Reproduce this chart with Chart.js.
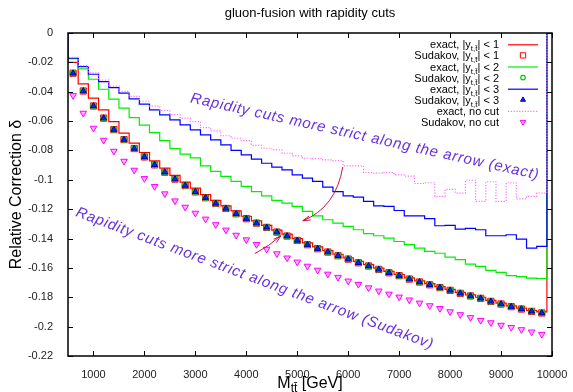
<!DOCTYPE html>
<html>
<head>
<meta charset="utf-8">
<script src="https://cdn.jsdelivr.net/npm/chart.js@4.4.0/dist/chart.umd.min.js"></script>
<style>
  html, body { margin: 0; padding: 0; background: #fff; }
</style>
</head>
<body>
<canvas id="c" width="573" height="392"></canvas>
<script>
// ---- data (bin centres in GeV, relative correction) ----
const M_BINS = [600, 800, 1000, 1200, 1400, 1600, 1800, 2000, 2200, 2400,
  2600, 2800, 3000, 3200, 3400, 3600, 3800, 4000, 4200, 4400,
  4600, 4800, 5000, 5200, 5400, 5600, 5800, 6000, 6200, 6400,
  6600, 6800, 7000, 7200, 7400, 7600, 7800, 8000, 8200, 8400,
  8600, 8800, 9000, 9200, 9400, 9600, 9800];
const BIN_HALF = 100;

const EXACT_Y1 = [-0.0200, -0.0347, -0.0444, -0.0524, -0.0603, -0.0682, -0.0750, -0.0814, -0.0871, -0.0920,
  -0.0970, -0.1016, -0.1057, -0.1100, -0.1140, -0.1177, -0.1212, -0.1248, -0.1280, -0.1310,
  -0.1342, -0.1370, -0.1400, -0.1430, -0.1457, -0.1482, -0.1507, -0.1531, -0.1556, -0.1578,
  -0.1601, -0.1624, -0.1645, -0.1668, -0.1688, -0.1707, -0.1727, -0.1746, -0.1766, -0.1784,
  -0.1800, -0.1821, -0.1840, -0.1858, -0.1874, -0.1890, -0.1900];

const SUDAKOV_Y1 = [-0.0274, -0.0395, -0.0497, -0.0580, -0.0658, -0.0726, -0.0787, -0.0844, -0.0898, -0.0948,
  -0.0995, -0.1039, -0.1082, -0.1122, -0.1161, -0.1195, -0.1231, -0.1265, -0.1295, -0.1324,
  -0.1356, -0.1383, -0.1413, -0.1442, -0.1469, -0.1492, -0.1517, -0.1540, -0.1565, -0.1587,
  -0.1610, -0.1633, -0.1653, -0.1676, -0.1696, -0.1715, -0.1734, -0.1753, -0.1773, -0.1791,
  -0.1807, -0.1828, -0.1846, -0.1864, -0.1880, -0.1896, -0.1907];

const EXACT_Y2 = [-0.0175, -0.0245, -0.0315, -0.0383, -0.0451, -0.0512, -0.0576, -0.0628, -0.0678, -0.0733,
  -0.0787, -0.0825, -0.0850, -0.0905, -0.0943, -0.0977, -0.1011, -0.1045, -0.1080, -0.1109,
  -0.1140, -0.1159, -0.1181, -0.1215, -0.1245, -0.1272, -0.1295, -0.1317, -0.1340, -0.1367,
  -0.1381, -0.1397, -0.1420, -0.1442, -0.1465, -0.1488, -0.1500, -0.1526, -0.1544, -0.1574,
  -0.1590, -0.1617, -0.1630, -0.1653, -0.1660, -0.1669, -0.1672];

// the |y|<2 and |y|<3 Sudakov markers sit right on top of the |y|<1 ones
const SUDAKOV_Y2 = SUDAKOV_Y1.slice();
const SUDAKOV_Y3 = SUDAKOV_Y1.slice();

const EXACT_Y3 = [-0.0172, -0.0229, -0.0281, -0.0331, -0.0372, -0.0410, -0.0449, -0.0485, -0.0524, -0.0558,
  -0.0592, -0.0626, -0.0660, -0.0694, -0.0728, -0.0762, -0.0800, -0.0830, -0.0859, -0.0887,
  -0.0914, -0.0932, -0.0966, -0.0989, -0.1010, -0.1050, -0.1080, -0.1109, -0.1118, -0.1147,
  -0.1177, -0.1181, -0.1209, -0.1245, -0.1245, -0.1264, -0.1313, -0.1310, -0.1336, -0.1331,
  -0.1340, -0.1381, -0.1381, -0.1374, -0.1404, -0.1465, -0.1454];

const EXACT_NOCUT = [-0.0165, -0.0222, -0.0272, -0.0320, -0.0362, -0.0398, -0.0432, -0.0465, -0.0498, -0.0528,
  -0.0555, -0.0580, -0.0603, -0.0645, -0.0667, -0.0700, -0.0717, -0.0733, -0.0765, -0.0785,
  -0.0796, -0.0819, -0.0837, -0.0853, -0.0855, -0.0864, -0.0870, -0.0905, -0.0905, -0.0950,
  -0.0955, -0.0950, -0.0966, -0.0975, -0.1025, -0.1020, -0.1113, -0.1065, -0.1090, -0.1003,
  -0.1147, -0.1013, -0.1147, -0.1020, -0.1130, -0.1113, -0.1090];

const SUDAKOV_NOCUT = [-0.0426, -0.0546, -0.0648, -0.0730, -0.0805, -0.0873, -0.0934, -0.0991, -0.1045, -0.1095,
  -0.1143, -0.1186, -0.1227, -0.1267, -0.1305, -0.1342, -0.1377, -0.1408, -0.1440, -0.1472,
  -0.1503, -0.1532, -0.1560, -0.1588, -0.1615, -0.1642, -0.1664, -0.1689, -0.1712, -0.1735,
  -0.1757, -0.1778, -0.1798, -0.1818, -0.1839, -0.1857, -0.1876, -0.1898, -0.1918, -0.1938,
  -0.1957, -0.1973, -0.1990, -0.2005, -0.2020, -0.2036, -0.2052];

const X_TICKS = [1000, 2000, 3000, 4000, 5000, 6000, 7000, 8000, 9000, 10000];
const Y_TICKS = [0, -0.02, -0.04, -0.06, -0.08, -0.1, -0.12, -0.14, -0.16, -0.18, -0.2, -0.22];

const LEGEND_TEXT = [
  "exact, |y_{t,t\u0304}| < 1", "Sudakov, |y_{t,t\u0304}| < 1",
  "exact, |y_{t,t\u0304}| < 2", "Sudakov, |y_{t,t\u0304}| < 2",
  "exact, |y_{t,t\u0304}| < 3", "Sudakov, |y_{t,t\u0304}| < 3",
  "exact, no cut", "Sudakov, no cut"];

const TITLE = "gluon-fusion with rapidity cuts";
const X_LABEL = "M_{tt\u0304} [GeV]";
const Y_LABEL = "Relative Correction \u03b4";

// annotations in data coordinates
const NOTES = [
  { text: "Rapidity cuts more strict along the arrow (exact)", x: 6327, y: -0.0707, angle: 12.5 },
  { text: "Rapidity cuts more strict along the arrow (Sudakov)", x: 4166, y: -0.1673, angle: 20.5 },
];
const ARROWS = [
  { from: [5894, -0.0912], via: [5756, -0.1190], to: [5108, -0.1279] },
  { from: [4166, -0.1503], via: [4460, -0.1449], to: [4677, -0.1381] },
];

const FONT = '"Liberation Sans", Arial, sans-serif';

// gnuplot "histeps": flat over each bin, closed down to zero at both ends
function histeps(centers, values, half) {
  const pts = [{ x: centers[0] - half, y: 0 }];
  centers.forEach((c, i) => {
    pts.push({ x: c - half, y: values[i] });
    pts.push({ x: c + half, y: values[i] });
  });
  pts.push({ x: centers[centers.length - 1] + half, y: 0 });
  return pts;
}
function points(centers, values) {
  return centers.map((c, i) => ({ x: c, y: values[i] }));
}

// text with _{...} subscripts
function drawRich(ctx, str, x, y, size, align) {
  const parts = str.split(/(_\{[^}]*\})/).filter(Boolean)
    .map(p => p.startsWith("_{") ? { t: p.slice(2, -1), sub: true } : { t: p, sub: false });
  const fontFor = sub => `${sub ? Math.round(size * 0.75) : size}px ${FONT}`;
  let w = 0;
  parts.forEach(p => { ctx.font = fontFor(p.sub); p.w = ctx.measureText(p.t).width; w += p.w; });
  let cx = align === "right" ? x - w : align === "center" ? x - w / 2 : x;
  ctx.textAlign = "left";
  ctx.textBaseline = "alphabetic";
  parts.forEach(p => {
    ctx.font = fontFor(p.sub);
    ctx.fillText(p.t, cx, p.sub ? y + size * 0.28 : y);
    cx += p.w;
  });
}

const lineBase = { showLine: true, pointRadius: 0, borderWidth: 1.2, tension: 0, fill: false };
const datasets = [
  { ...lineBase, data: histeps(M_BINS, EXACT_Y1, BIN_HALF), borderColor: "#ff0000", order: 8 },
  { data: points(M_BINS, SUDAKOV_Y1), showLine: false, pointStyle: "rect", pointRadius: 4.4,
    pointBorderWidth: 1, borderColor: "#ff0000", backgroundColor: "rgba(0,0,0,0)", order: 7 },
  { ...lineBase, data: histeps(M_BINS, EXACT_Y2, BIN_HALF), borderColor: "#00ee00", order: 6 },
  { data: points(M_BINS, SUDAKOV_Y2), showLine: false, pointStyle: "circle", pointRadius: 2.7,
    pointBorderWidth: 1.2, borderColor: "#00cc00", backgroundColor: "rgba(0,0,0,0)", order: 5 },
  { ...lineBase, data: histeps(M_BINS, EXACT_Y3, BIN_HALF), borderColor: "#0000ff", order: 4 },
  { data: points(M_BINS, SUDAKOV_Y3), showLine: false, pointStyle: "triangle", pointRadius: 3.4,
    pointBorderWidth: 1, borderColor: "#0000aa", backgroundColor: "#1020ee", order: 3 },
  { ...lineBase, data: histeps(M_BINS, EXACT_NOCUT, BIN_HALF), borderColor: "rgb(255,110,255)",
    borderDash: [1.2, 1.6], order: 2 },
  { data: points(M_BINS, SUDAKOV_NOCUT), showLine: false, pointStyle: "triangle", pointRotation: 180,
    pointRadius: 3.8, pointBorderWidth: 1, borderColor: "#ff00ff", backgroundColor: "rgba(255,0,255,0.3)", order: 1 },
];

const decor = {
  id: "decor",
  afterDatasetsDraw(chart) {
    const { ctx, scales: { x, y } } = chart;
    ctx.save();
    NOTES.forEach(n => {
      ctx.save();
      ctx.translate(x.getPixelForValue(n.x), y.getPixelForValue(n.y));
      ctx.rotate(n.angle * Math.PI / 180);
      ctx.font = `italic 15px ${FONT}`;
      if ("letterSpacing" in ctx) ctx.letterSpacing = "0.8px";
      ctx.fillStyle = "#6633dd";
      ctx.textAlign = "center";
      ctx.textBaseline = "middle";
      ctx.fillText(n.text, 0, 0);
      ctx.restore();
    });
    ctx.strokeStyle = "#cc1040";
    ctx.lineWidth = 1;
    ARROWS.forEach(a => {
      const p0 = [x.getPixelForValue(a.from[0]), y.getPixelForValue(a.from[1])];
      const pc = [x.getPixelForValue(a.via[0]), y.getPixelForValue(a.via[1])];
      const p1 = [x.getPixelForValue(a.to[0]), y.getPixelForValue(a.to[1])];
      ctx.beginPath();
      ctx.moveTo(p0[0], p0[1]);
      ctx.quadraticCurveTo(pc[0], pc[1], p1[0], p1[1]);
      ctx.stroke();
      const ang = Math.atan2(p1[1] - pc[1], p1[0] - pc[0]);
      ctx.beginPath();
      [-1, 1].forEach(s => {
        ctx.moveTo(p1[0], p1[1]);
        ctx.lineTo(p1[0] - 8 * Math.cos(ang + s * 0.27), p1[1] - 8 * Math.sin(ang + s * 0.27));
      });
      ctx.stroke();
    });
    ctx.restore();
  },
  afterDraw(chart) {
    const { ctx, chartArea: a, scales: { x, y } } = chart;
    ctx.save();
    // frame + inward mirror ticks
    ctx.strokeStyle = "#000";
    ctx.lineWidth = 1.5;
    ctx.strokeRect(a.left, a.top, a.right - a.left, a.bottom - a.top);
    ctx.lineWidth = 1;
    ctx.beginPath();
    X_TICKS.forEach(v => {
      const px = Math.round(x.getPixelForValue(v)) + 0.5;
      ctx.moveTo(px, a.bottom); ctx.lineTo(px, a.bottom - 5);
      ctx.moveTo(px, a.top); ctx.lineTo(px, a.top + 5);
    });
    Y_TICKS.forEach(v => {
      const py = Math.round(y.getPixelForValue(v)) + 0.5;
      ctx.moveTo(a.left, py); ctx.lineTo(a.left + 5, py);
      ctx.moveTo(a.right, py); ctx.lineTo(a.right - 5, py);
    });
    ctx.stroke();

    // titles
    ctx.fillStyle = "#000";
    ctx.font = `13px ${FONT}`;
    ctx.textAlign = "center";
    ctx.textBaseline = "middle";
    ctx.fillText(TITLE, (a.left + a.right) / 2, 13);
    drawRich(ctx, X_LABEL, (a.left + a.right) / 2, 388, 16, "center");
    ctx.save();
    ctx.translate(17, (a.top + a.bottom) / 2);
    ctx.rotate(-Math.PI / 2);
    ctx.font = `16px ${FONT}`;
    ctx.textAlign = "center";
    ctx.textBaseline = "middle";
    ctx.fillText(Y_LABEL, 0, 0);
    ctx.restore();

    // legend
    const rowY0 = 44.3, rowStep = 11.1, textRight = 499, sampleL = 508, sampleR = 538, markX = 523;
    chart.data.datasets.forEach((ds, i) => {
      const cy = rowY0 + i * rowStep;
      ctx.fillStyle = "#000";
      drawRich(ctx, LEGEND_TEXT[i], textRight, cy + 4, 11, "right");
      if (ds.showLine) {
        ctx.save();
        ctx.strokeStyle = ds.borderColor;
        ctx.lineWidth = ds.borderWidth;
        ctx.setLineDash(ds.borderDash || []);
        ctx.beginPath();
        ctx.moveTo(sampleL, cy + 0.5); ctx.lineTo(sampleR, cy + 0.5);
        ctx.stroke();
        ctx.restore();
      } else {
        ctx.save();
        ctx.strokeStyle = ds.borderColor;
        ctx.fillStyle = ds.backgroundColor;
        ctx.lineWidth = ds.pointBorderWidth;
        Chart.helpers.drawPoint(ctx, {
          pointStyle: ds.pointStyle, rotation: ds.pointRotation || 0,
          radius: ds.pointRadius * 0.85, borderWidth: ds.pointBorderWidth,
        }, markX, cy);
        ctx.restore();
      }
    });
    ctx.restore();
  },
};

new Chart(document.getElementById("c"), {
  type: "scatter",
  data: { datasets },
  options: {
    responsive: false,
    animation: false,
    layout: { padding: { top: 33, right: 21, left: 0, bottom: 0 } },
    plugins: { legend: { display: false }, tooltip: { enabled: false } },
    scales: {
      x: {
        type: "linear", min: 500, max: 10000,
        grid: { display: false }, border: { display: false },
        afterBuildTicks: s => { s.ticks = X_TICKS.map(v => ({ value: v })); },
        afterFit: s => { s.height = 36; },
        ticks: { font: { family: FONT, size: 11 }, color: "#222", padding: 4,
          maxRotation: 0, autoSkip: false, callback: v => String(v) },
      },
      y: {
        type: "linear", min: -0.22, max: 0,
        grid: { display: false }, border: { display: false },
        afterBuildTicks: s => { s.ticks = Y_TICKS.map(v => ({ value: v })); },
        afterFit: s => { s.width = 68; },
        ticks: { font: { family: FONT, size: 11 }, color: "#222", padding: 7,
          autoSkip: false, callback: v => String(+v.toFixed(2)) },
      },
    },
  },
  plugins: [decor],
});
</script>
</body>
</html>
